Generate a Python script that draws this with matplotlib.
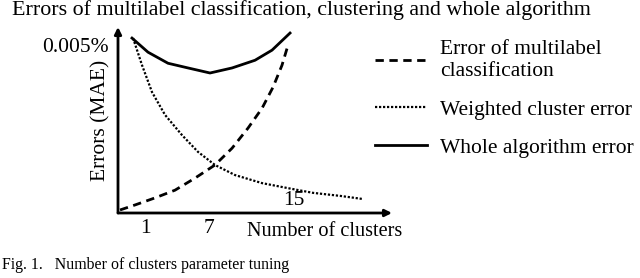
import matplotlib
matplotlib.use("Agg")
import matplotlib.pyplot as plt

# number of clusters (schematic) and errors in %
clf_x = [-1.36, 0.06, 1.94, 3.83, 5.72, 7.60, 9.21, 10.72, 12.04, 13.08, 13.92, 14.49]
clf_y = [0.00009, 0.00024, 0.00045, 0.00068, 0.00104, 0.00143, 0.00193, 0.00253,
         0.00312, 0.00375, 0.00440, 0.00500]

clu_x = [-0.13, 0.72, 1.66, 2.89, 4.49, 6.00, 7.60, 9.49, 12.04, 14.49, 16.85, 19.4, 21.47]
clu_y = [0.00521, 0.00440, 0.00360, 0.00292, 0.00232, 0.00182, 0.00143, 0.00113,
         0.00089, 0.00074, 0.00060, 0.00051, 0.00042]

whole_x = [-0.23, 1.28, 3.17, 5.06, 7.13, 9.21, 11.38, 12.98, 14.68]
whole_y = [0.00521, 0.00479, 0.00446, 0.00432, 0.00417, 0.00432, 0.00455, 0.00485, 0.00536]

x_ticks = [1, 7]
x_ticklabels = ['1', '7']
labels = ['Error of multilabel\nclassification', 'Weighted cluster error', 'Whole algorithm error']

plt.rcParams['font.family'] = 'Liberation Serif'
plt.rcParams['font.size'] = 15.5

fig = plt.figure(figsize=(6.4, 2.78), dpi=100)
ax = fig.add_axes([118 / 640, 65 / 278, 274 / 640, 186 / 278])

l1, = ax.plot(clf_x, clf_y, color='black', lw=2, dashes=(3, 2))
l2, = ax.plot(clu_x, clu_y, color='black', lw=1.6, linestyle=(0, (1, 0.8)))
l3, = ax.plot(whole_x, whole_y, color='black', lw=2)

ax.set_xlim(-1.55, 24.3)
ax.set_ylim(0, 0.00554)
for s in ax.spines.values():
    s.set_visible(False)

# axis arrows
ax.annotate('', xy=(0, 1), xytext=(0, 0), xycoords='axes fraction',
            arrowprops=dict(arrowstyle='-|>', color='black', lw=2, shrinkA=0, shrinkB=0,
                            mutation_scale=10))
ax.annotate('', xy=(1, 0), xytext=(0, 0), xycoords='axes fraction',
            arrowprops=dict(arrowstyle='-|>', color='black', lw=2, shrinkA=0, shrinkB=0,
                            mutation_scale=10))

ax.set_xticks(x_ticks)
ax.set_xticklabels(x_ticklabels)
ax.set_yticks([0.005])
ax.set_yticklabels(['0.005%'])
ax.tick_params(axis='y', length=0, pad=7)
ax.tick_params(axis='x', length=0, pad=4)
ax.text(15, 0.00008, '15', ha='center', va='bottom')
ax.text(10.6, -0.00027, 'Number of clusters', ha='left', va='top', fontsize=14.6)
ax.set_ylabel('Errors (MAE)')
ax.yaxis.set_label_coords(-0.028, 0.5)

fig.text(12 / 640, 1 - 10 / 278, 'Errors of multilabel classification, clustering and whole algorithm',
         ha='left', va='center', fontsize=15.8)
fig.text(2 / 640, 1 - 265 / 278, 'Fig. 1.   Number of clusters parameter tuning',
         ha='left', va='center', fontsize=11.4)

leg = fig.legend([l1, l2, l3], labels, loc='upper left', bbox_to_anchor=(356 / 640, 1 - 21 / 278),
                 frameon=False, handlelength=2.4, handletextpad=0.6, labelspacing=0.85)
for t in leg.get_texts():
    t.set_linespacing(1.2)

fig.savefig('out.png', dpi=100)
